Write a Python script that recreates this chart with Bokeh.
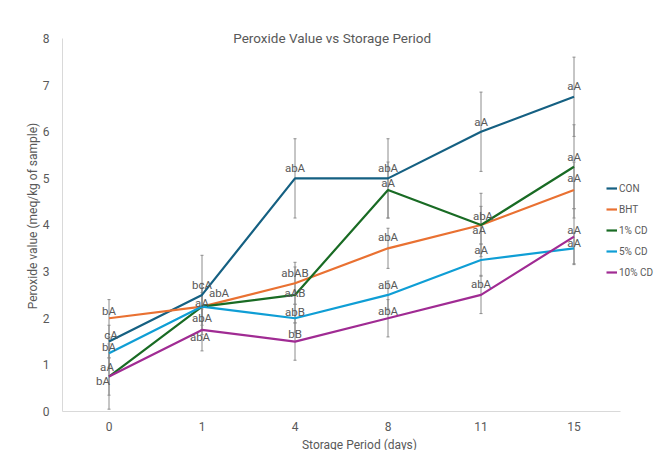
from bokeh.plotting import figure
from bokeh.models import Range1d, Label, Legend, LegendItem, FixedTicker
from bokeh.core.properties import value
from bokeh.embed import file_html
from bokeh.resources import INLINE

# ---- data ----
days = ["0", "1", "4", "8", "11", "15"]
series_names = ["CON", "BHT", "1% CD", "5% CD", "10% CD"]
con = [1.5, 2.5, 5.0, 5.0, 6.0, 6.75]
bht = [2.0, 2.25, 2.75, 3.5, 4.0, 4.75]
cd1 = [0.75, 2.25, 2.5, 4.75, 4.0, 5.25]
cd5 = [1.25, 2.25, 2.0, 2.5, 3.25, 3.5]
cd10 = [0.75, 1.75, 1.5, 2.0, 2.5, 3.75]

con_err = [0.35, 0.85, 0.85, 0.85, 0.85, 0.85]
bht_err = [0.4, 0.4, 0.45, 0.43, 0.4, 0.6]
cd1_err = [0.7, 0.5, 0.6, 0.6, 0.68, 0.9]
cd5_err = [0.3, 0.3, 0.3, 0.3, 0.33, 0.33]
cd10_err = [0.4, 0.45, 0.4, 0.4, 0.4, 0.6]

con_lbl = ["cA", "bcA", "abA", "abA", "aA", "aA"]
bht_lbl = ["bA", "abA", "abAB", "abA", "aA", "aA"]
cd1_lbl = ["aA", "aA", "aAB", "aA", "abA", "aA"]
cd5_lbl = ["bA", "abA", "abB", "abA", "aA", "aA"]
cd10_lbl = ["bA", "abA", "bB", "abA", "abA", "aA"]

y_ticks = [0, 1, 2, 3, 4, 5, 6, 7, 8]

# ---- styling ----
colors = ["#156082", "#E97132", "#196B24", "#0F9ED5", "#A02B93"]
# label offsets in screen pixels (dx, dy), layout only
label_offsets = [
    [(2, -7), (0, -10), (0, -10), (0, -10), (0, -10), (0, -11)],
    [(0, -7), (17, -14), (0, -10), (0, -11), (-2, 5), (0, -12)],
    [(-2, -10), (0, -4), (0, -2), (0, -7), (2, -9), (0, -10)],
    [(0, -6), (0, 11), (0, -6), (0, -10), (0, -10), (0, -5)],
    [(-6, 4), (-2, 7), (0, -8), (0, -7), (0, -11), (0, -7)],
]
FONT = "Roboto"
GRAY = "#595959"

x_idx = list(range(len(days)))
values = [con, bht, cd1, cd5, cd10]
errs = [con_err, bht_err, cd1_err, cd5_err, cd10_err]
labels = [con_lbl, bht_lbl, cd1_lbl, cd5_lbl, cd10_lbl]

p = figure(
    frame_width=594, frame_height=391,
    x_range=Range1d(-0.5, 5.887),
    y_range=Range1d(0, 8.386),
    output_backend="svg", toolbar_location=None,
    min_border_left=62, min_border_right=0, min_border_top=20, min_border_bottom=39,
)
p.outline_line_color = None
p.xgrid.grid_line_color = None
p.ygrid.grid_line_color = None

# error bars
for v, e in zip(values, errs):
    lo = [a - b for a, b in zip(v, e)]
    hi = [a + b for a, b in zip(v, e)]
    p.segment(x0=x_idx, y0=lo, x1=x_idx, y1=hi, line_color="#8c8c8c", line_width=1)
    p.dash(x=x_idx, y=lo, size=3, line_color="#8c8c8c", line_width=1)
    p.dash(x=x_idx, y=hi, size=3, line_color="#8c8c8c", line_width=1)

items = []
for name, v, c in zip(series_names, values, colors):
    r = p.line(x=x_idx, y=v, line_color=c, line_width=2.2)
    items.append(LegendItem(label=name, renderers=[r]))

for v, lb, offs in zip(values, labels, label_offsets):
    p.text(x=x_idx, y=v, text=lb,
           x_offset=[o[0] for o in offs], y_offset=[o[1] for o in offs],
           text_align="center", text_baseline="middle",
           text_font=value(FONT), text_font_size="11.5px",
           text_color=GRAY)

legend = Legend(items=items, location=(544, 132), orientation="vertical",
                background_fill_alpha=0, border_line_color=None,
                glyph_width=11, glyph_height=14, label_height=14, spacing=7,
                padding=0, margin=0, label_standoff=2,
                label_text_font=FONT, label_text_font_size="10px",
                label_text_color=GRAY)
p.add_layout(legend)

# axes
for ax in (p.xaxis[0], p.yaxis[0]):
    ax.axis_line_color = "#d9d9d9"
    ax.major_tick_line_color = None
    ax.minor_tick_line_color = None
    ax.major_label_text_font = FONT
    ax.major_label_text_font_size = "12px"
    ax.major_label_text_color = GRAY
    ax.axis_label_text_font = FONT
    ax.axis_label_text_font_size = "12px"
    ax.axis_label_text_color = GRAY
    ax.axis_label_text_font_style = "normal"

p.yaxis.ticker = FixedTicker(ticks=y_ticks)
p.yaxis.bounds = (0, 8)
p.yaxis.major_label_standoff = 7
p.yaxis.axis_label = "Peroxide value (meq/kg of sample)"
p.yaxis.axis_label_standoff = 0

p.xaxis.ticker = FixedTicker(ticks=x_idx)
p.xaxis.major_label_overrides = {i: d for i, d in zip(x_idx, days)}
p.xaxis.bounds = (-0.5, 5.5)
p.xaxis.axis_label = "Storage Period (days)"
p.xaxis.major_label_standoff = 4
p.xaxis.axis_label_standoff = 4

title = Label(x=2.4, y=8, text="Peroxide Value vs Storage Period",
              text_align="center", text_baseline="middle",
              text_font=FONT, text_font_size="13.5px", text_color=GRAY)
p.add_layout(title)

open("out.html", "w").write(file_html(p, INLINE))
